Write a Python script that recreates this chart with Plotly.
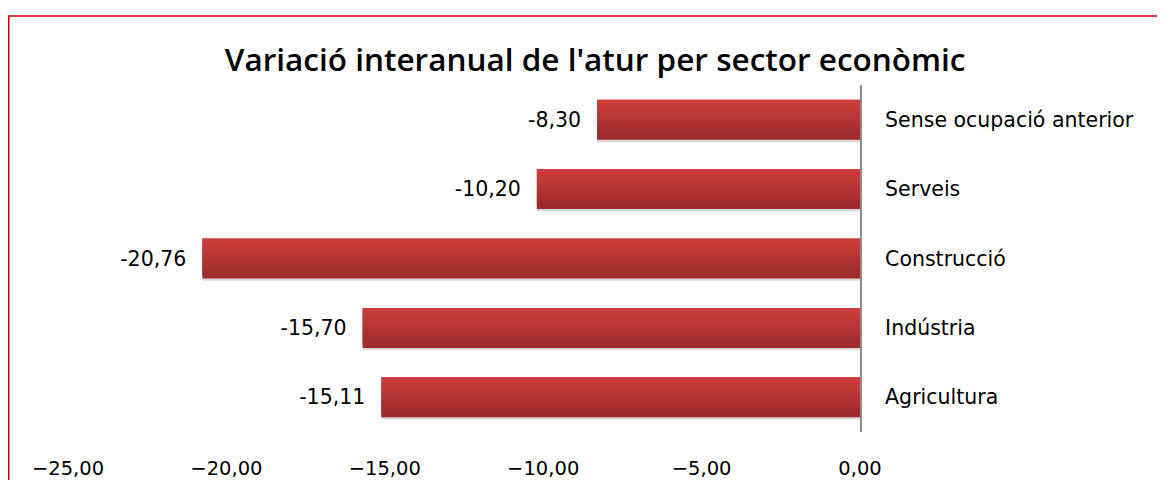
import plotly.graph_objects as go

categories = ["Agricultura", "Indústria", "Construcció", "Serveis", "Sense ocupació anterior"]
values = [-15.11, -15.70, -20.76, -10.20, -8.30]
tick_vals = [-25, -20, -15, -10, -5, 0]

title = "Variació interanual de l'atur per sector econòmic"
FONT = "DejaVu Sans"

fig = go.Figure()

# shadow
fig.add_trace(go.Bar(
    y=categories, x=values, orientation="h",
    width=0.58, offset=-0.32,
    marker=dict(color="rgba(0,0,0,0.16)", line=dict(width=0)),
    hoverinfo="skip", showlegend=False,
))

# gradient strips (top light -> bottom dark)
n = 12
top = (208, 64, 61)
bot = (160, 44, 44)
bar_w = 0.576
strip = bar_w / n
for i in range(n):
    t = i / (n - 1)
    c = tuple(round(top[k] + (bot[k] - top[k]) * t) for k in range(3))
    off = bar_w / 2 - (i + 1) * strip
    w = strip if i == 0 else strip * 2
    fig.add_trace(go.Bar(
        y=categories, x=values, orientation="h",
        width=w, offset=off,
        marker=dict(color="rgb(%d,%d,%d)" % c, line=dict(width=0)),
        hoverinfo="skip", showlegend=False,
    ))

# labels
fig.add_trace(go.Bar(
    y=categories, x=values, orientation="h",
    width=bar_w, offset=-bar_w / 2,
    marker=dict(color="rgba(0,0,0,0)", line=dict(width=0)),
    text=values, texttemplate="%{x:.2f}\u00a0\u00a0", textposition="outside",
    textfont=dict(family=FONT, size=20.5, color="#000000"),
    cliponaxis=False, showlegend=False,
))

fig.update_layout(
    width=1165, height=480,
    margin=dict(l=60, r=313, t=77, b=56),
    paper_bgcolor="white", plot_bgcolor="white",
    barmode="overlay",
    separators=",.",
    title=dict(text=title, x=0.504, xanchor="center", y=0.892, yanchor="middle",
               font=dict(family="Open Sans", size=31.5, color="#000000", weight=600)),
    xaxis=dict(range=[-25, 0], tickvals=tick_vals, tickformat=".2f",
               showgrid=False, zeroline=False, showline=False, automargin=False,
               ticks="", ticklabelstandoff=22,
               tickfont=dict(family=FONT, size=19.5, color="#000000")),
    yaxis=dict(side="right", showgrid=False, zeroline=False, automargin=False,
               showline=True, linecolor="#8c8c8c", linewidth=2,
               ticks="", ticklabelstandoff=19,
               tickfont=dict(family=FONT, size=20.5, color="#000000"),
               categoryorder="array", categoryarray=categories),
    shapes=[dict(type="rect", xref="paper", yref="paper",
                 x0=-0.0748, x1=1.40, y0=-0.2, y1=1.1988,
                 line=dict(color="#cc0000", width=1.5), layer="above")],
)

fig.write_html("out.html")
